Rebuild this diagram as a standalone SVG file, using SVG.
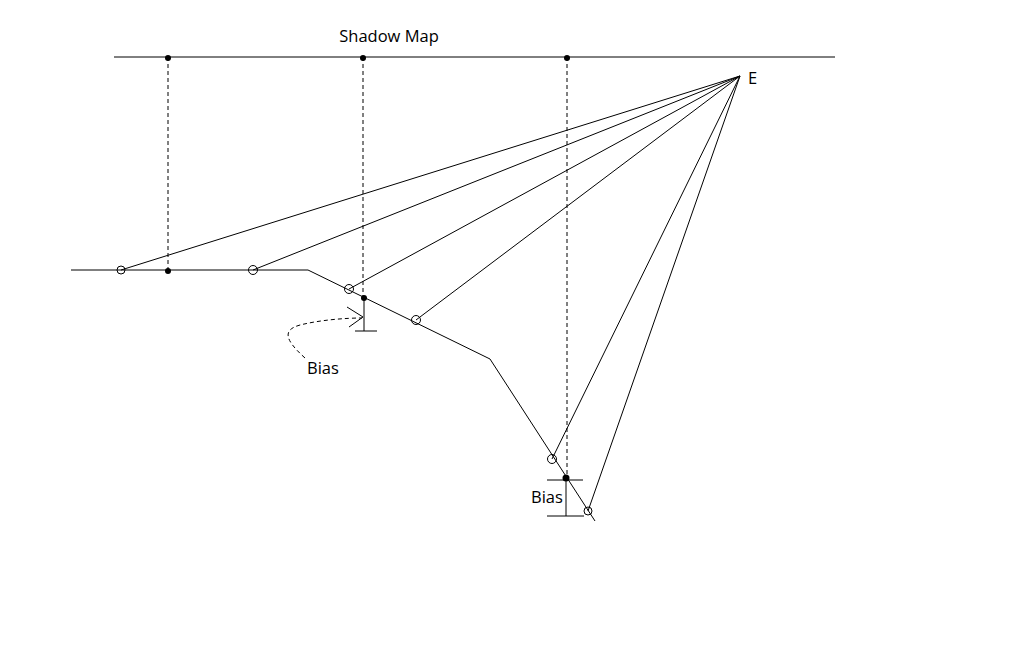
<svg xmlns="http://www.w3.org/2000/svg" width="1024" height="654" viewBox="0 0 1024 654">
<style>
.ln{stroke:#000;stroke-width:1;fill:none}
.dash{stroke:#000;stroke-width:1;fill:none;stroke-dasharray:4,3}
.oc{stroke:#000;stroke-width:1;fill:none}
.fd{fill:#000}
.t{font-family:"Open Sans","Noto Sans","Liberation Sans",sans-serif;font-size:16.5px;fill:#000}
</style>
<rect width="1024" height="654" fill="#fff"/>
<g id="connectors">
<line class="ln" x1="114" y1="57" x2="835" y2="57"/>
<polyline class="ln" points="71,270 308,270 490,359 595,521"/>
<line class="dash" x1="168" y1="57" x2="168" y2="270"/>
<line class="dash" x1="363" y1="57" x2="363" y2="298"/>
<line class="ln" x1="364" y1="298" x2="364" y2="331"/>
<line class="ln" x1="355" y1="331" x2="377" y2="331"/>
<line class="dash" x1="567" y1="57" x2="567" y2="478"/>
<line class="ln" x1="566" y1="478" x2="566" y2="516"/>
<line class="ln" x1="547" y1="480" x2="583" y2="480"/>
<line class="ln" x1="547" y1="516" x2="584" y2="516"/>
<line class="ln" x1="740" y1="76" x2="121" y2="270"/>
<line class="ln" x1="740" y1="76" x2="253" y2="270"/>
<line class="ln" x1="740" y1="76" x2="349" y2="289"/>
<line class="ln" x1="740" y1="76" x2="416" y2="320"/>
<line class="ln" x1="740" y1="76" x2="552" y2="459"/>
<line class="ln" x1="740" y1="76" x2="588" y2="511"/>
<path class="dash" d="M305,358 C285,340 282,330 300,325 C320,320 345,318 362,318"/>
<polyline class="ln" points="347,307 363,317 349,327"/>
</g>
<g id="map-points">
<circle class="fd" cx="168" cy="58" r="3"/>
<circle class="fd" cx="363" cy="58" r="3"/>
<circle class="fd" cx="567" cy="58" r="3"/>
</g>
<g id="surface-points">
<circle class="fd" cx="168" cy="271" r="3"/>
<circle class="fd" cx="364" cy="298" r="3"/>
<circle class="fd" cx="566" cy="478" r="3.5"/>
</g>
<g id="samples">
<circle class="oc" cx="121" cy="270" r="4"/>
<circle class="oc" cx="253" cy="270" r="4.5"/>
<circle class="oc" cx="349" cy="289" r="4.5"/>
<circle class="oc" cx="416" cy="320" r="4.5"/>
<circle class="oc" cx="552" cy="459" r="4.5"/>
<circle class="oc" cx="588" cy="511" r="4"/>
</g>
<g id="labels">
<text class="t" x="389" y="42" text-anchor="middle">Shadow Map</text>
<text class="t" x="748" y="84">E</text>
<text class="t" x="307" y="374">Bias</text>
<text class="t" x="531" y="503">Bias</text>
</g>
</svg>
